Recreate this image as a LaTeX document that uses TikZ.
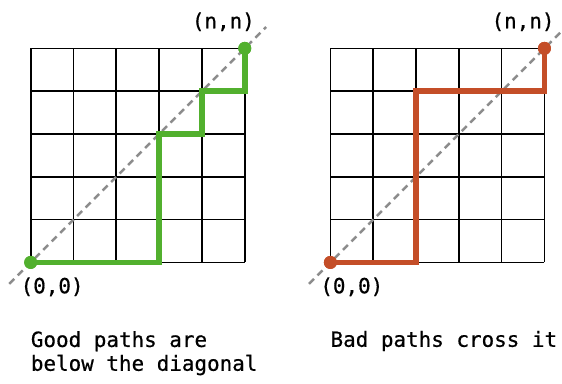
\documentclass[tikz,border=0pt]{standalone}
\usepackage{fontspec}
\setmonofont[FakeBold=0.6]{DejaVu Sans Mono}
\usetikzlibrary{positioning}
\definecolor{PathGreen}{RGB}{82,176,46}
\definecolor{PathRed}{RGB}{196,78,40}
\definecolor{DiagGray}{RGB}{140,140,140}
\tikzset{
  gridline/.style={draw=black,line width=1.7pt},
  diag/.style={draw=DiagGray,line width=2.5pt,dash pattern=on 7pt off 5pt},
  goodpath/.style={draw=PathGreen,line width=5.5pt,line join=miter},
  badpath/.style={draw=PathRed,line width=5.5pt,line join=miter},
  gooddot/.style={circle,fill=PathGreen,minimum size=13pt,inner sep=0pt},
  baddot/.style={circle,fill=PathRed,minimum size=13pt,inner sep=0pt},
  corner/.style={font=\ttfamily\fontsize{20.9}{23.5}\selectfont,inner sep=0pt,anchor=base},
  caption/.style={font=\ttfamily\fontsize{20.9}{23.8}\selectfont,inner sep=0pt,align=left,anchor=base west}
}
\begin{document}
\begin{tikzpicture}[x=42.8pt,y=42.8pt]
  \useasboundingbox (-0.717,-2.82) rectangle (12.41,6.13);
  % good panel
  \draw[gridline,step={(1,1)}] (0,0) grid (5,5);
  \draw[diag] (-0.5,-0.5) -- (5.5,5.5);
  \node[gooddot] (gs) at (0,0) {};
  \node[gooddot] (ge) at (5,5) {};
  \draw[goodpath] (gs.center) -- (3,0) -- (3,3) -- (4,3) -- (4,4) -- (5,4) -- (ge.center);
  \node[gooddot] at (gs.center) {};
  \node[gooddot] at (ge.center) {};
  \node[corner] (gslabel) at (0.5,-0.72) {(0,0)};
  \node[corner] (gelabel) at (4.5,5.47) {(n,n)};
  \node[caption] (goodtext) at (0,-2.53) {Good paths are\\below the diagonal};
  % bad panel
  \begin{scope}[shift={(7,0)}]
    \draw[gridline,step={(1,1)}] (0,0) grid (5,5);
    \draw[diag] (-0.5,-0.5) -- (5.5,5.5);
    \node[baddot] (bs) at (0,0) {};
    \node[baddot] (be) at (5,5) {};
    \draw[badpath] (bs.center) -- (2,0) -- (2,4) -- (5,4) -- (be.center);
    \node[baddot] at (bs.center) {};
    \node[baddot] at (be.center) {};
    \node[corner] (bslabel) at (0.5,-0.72) {(0,0)};
    \node[corner] (belabel) at (4.5,5.47) {(n,n)};
    \node[caption] (badtext) at (0,-1.97) {Bad paths cross it};
  \end{scope}
\end{tikzpicture}
\end{document}
